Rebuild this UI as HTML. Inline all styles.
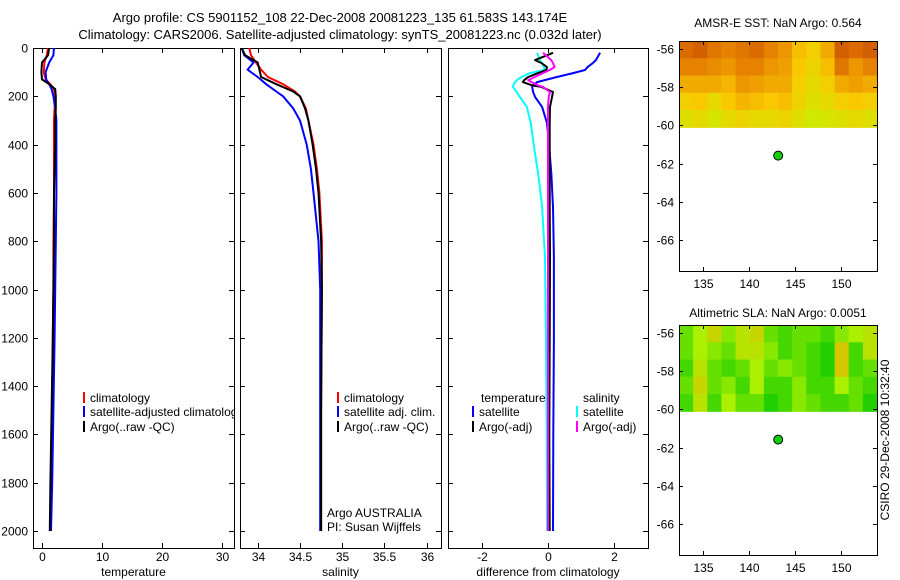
<!DOCTYPE html>
<html><head><meta charset="utf-8"><style>
body{margin:0;background:#fff}
svg{display:block;font-family:"Liberation Sans",sans-serif}
</style></head><body>
<svg id="c" width="900" height="580" viewBox="0 0 900 580">
<text x="340" y="22" font-size="13" text-anchor="middle">Argo profile: CS 5901152_108 22-Dec-2008 20081223_135 61.583S 143.174E</text>
<text x="340" y="39" font-size="13" text-anchor="middle">Climatology: CARS2006. Satellite-adjusted climatology: synTS_20081223.nc (0.032d later)</text>
<text x="778" y="27" font-size="12" text-anchor="middle">AMSR-E SST: NaN Argo: 0.564</text>
<text x="778" y="317" font-size="12" text-anchor="middle">Altimetric SLA: NaN Argo: 0.0051</text>
<text transform="translate(889,440) rotate(-90)" font-size="12" text-anchor="middle">CSIRO 29-Dec-2008 10:32:40</text>
</svg>
<script>
// ---- data ----
const depthTicks=[0,200,400,600,800,1000,1200,1400,1600,1800,2000];
const tempTicks=[0,10,20,30];
const salTicks=[34,34.5,35,35.5,36];
const diffTicks=[-2,0,2];
const lonTicks=[135,140,145,150];
const latTicks=[-56,-58,-60,-62,-64,-66];

const tDepth=[0,30,60,100,130,150,170,200,250,300,400,600,800,1000,1200,1500,1800,2000];
const tClim=[1.0,0.8,0.4,0.3,0.6,1.4,2.0,2.2,2.1,2.0,2.0,2.0,1.9,1.9,1.8,1.7,1.5,1.4];
const tSat=[2.0,1.9,1.2,0.6,0.7,1.2,1.6,1.9,2.2,2.4,2.4,2.4,2.3,2.2,2.1,1.9,1.7,1.5];
const tArgo=[1.2,1.0,0.0,-0.1,0.0,1.2,2.2,2.3,2.3,2.2,2.2,2.0,2.0,1.9,1.8,1.6,1.4,1.3];

const sDepth=[0,30,60,90,120,150,180,200,250,300,400,500,600,800,1000,1500,2000];
const sClim=[33.9,33.92,33.98,34.04,34.12,34.3,34.44,34.5,34.57,34.6,34.66,34.7,34.73,34.76,34.76,34.75,34.75];
const sSat=[33.81,33.84,33.95,33.88,34.0,34.1,34.22,34.3,34.42,34.5,34.58,34.63,34.66,34.72,34.74,34.74,34.74];
const sArgo=[33.81,33.85,34.0,34.02,34.04,34.22,34.42,34.5,34.56,34.6,34.65,34.69,34.72,34.75,34.76,34.75,34.75];

const dDepth=[20,50,62,79,91,104,120,133,141,155,161,182,203,244,311,381,451,518,658,865,1200,1600,2000];
const dTempSat=[1.58,1.45,1.36,1.2,1.12,0.76,0.27,-0.1,-0.33,-0.45,-0.48,-0.45,-0.39,-0.18,-0.03,0.02,0.06,0.1,0.15,0.18,0.18,0.16,0.15];
const dTempArgo=[0.15,-0.39,-0.2,-0.03,-0.05,-0.3,-0.6,-0.72,-0.76,-0.48,-0.2,0.15,0.12,0.06,0.05,0.05,0.05,0.05,0.05,0.06,0.05,0.04,0.05];
const dSalSat=[-0.33,-0.25,-0.18,-0.12,-0.1,-0.55,-0.8,-0.94,-1.0,-1.05,-1.06,-0.95,-0.85,-0.64,-0.52,-0.45,-0.38,-0.3,-0.18,-0.09,-0.06,-0.04,-0.03];
const dSalArgo=[-0.15,0.1,0.15,0.2,0.05,-0.15,-0.4,-0.6,-0.5,-0.3,-0.15,0.06,0.02,0.0,0.0,0.0,0.0,0.0,0.0,0.0,0.0,0.0,0.0];

const sstGrid=[
[.8,.85,.75,.7,.75,.8,.7,.6,.4,.3,.5,.85,.8,.85],
[.7,.7,.65,.6,.7,.7,.6,.55,.35,.25,.4,.75,.6,.7],
[.5,.5,.5,.45,.6,.55,.5,.5,.3,.2,.3,.5,.55,.5],
[.3,.35,.2,.35,.45,.4,.35,.4,.25,.15,.2,.3,.35,.3],
[.15,.2,.1,.2,.25,.2,.2,.25,.15,.05,.1,.15,.2,.15]];
const slaGrid=[
[.3,.5,.7,.4,.6,.7,.3,.2,.3,.3,.2,.4,.5,.6],
[.3,.5,.4,.3,.6,.6,.4,.2,.3,.2,.1,.8,.2,.6],
[.2,.6,.3,.2,.3,.5,.3,.4,.3,.2,.1,.8,.2,.3],
[.3,.7,.3,.4,.2,.5,.2,.2,.4,.2,.2,.5,.3,.2],
[.2,.6,.2,.5,.3,.3,.1,.2,.4,.3,.2,.2,.3,.1]];
const gridLon=[132.4,153.9];
const gridLat=[-55.6,-60.1];
const argoLon=143.17, argoLat=-61.58;

// ---- drawing ----
const NS='http://www.w3.org/2000/svg';
const svg=document.getElementById('c');
function mk(tag,at,parent){const e=document.createElementNS(NS,tag);for(const k in at)e.setAttribute(k,at[k]);(parent||svg).appendChild(e);return e;}
const Y0=48,PY=0.2415,BOT=548;
const yD=d=>Y0+d*PY;
const panels=[
 {x0:33,x1:234,v0:-1.5,v1:32,ticks:tempTicks,label:'temperature',name:'temperature'},
 {x0:240,x1:441,v0:33.79,v1:36.17,ticks:salTicks,label:'salinity',name:'salinity'},
 {x0:448,x1:648,v0:-3.03,v1:3.03,ticks:diffTicks,label:'difference from climatology',name:'difference'}];
panels.forEach((p,i)=>{
 p.x=v=>p.x0+(v-p.v0)/(p.v1-p.v0)*(p.x1-p.x0);
 const g=mk('g',{});
 
 
 const cp=mk('clipPath',{id:'cp'+i},g);mk('rect',{x:p.x0,y:Y0,width:p.x1-p.x0,height:BOT-Y0},cp);
 mk('rect',{x:p.x0+.5,y:Y0+.5,width:p.x1-p.x0,height:BOT-Y0,fill:'none',stroke:'#000'},g);
 p.ticks.forEach(t=>{const x=Math.round(p.x(t))+.5;
  mk('line',{x1:x,x2:x,y1:Y0,y2:Y0+5,stroke:'#000'},g);mk('line',{x1:x,x2:x,y1:BOT-5,y2:BOT,stroke:'#000'},g);
  const tx=mk('text',{x:x,y:561,'font-size':12,'text-anchor':'middle'},g);tx.textContent=t;
  
  });
 depthTicks.forEach(d=>{const y=Math.round(yD(d))+.5;
  mk('line',{x1:p.x0,x2:p.x0+5,y1:y,y2:y,stroke:'#000'},g);mk('line',{x1:p.x1-5,x2:p.x1,y1:y,y2:y,stroke:'#000'},g);
  if(i==0){const tx=mk('text',{x:28,y:y+4,'font-size':12,'text-anchor':'end'},g);tx.textContent=d;
   
   }});
 const lb=mk('text',{x:(p.x0+p.x1)/2,y:576,'font-size':12,'text-anchor':'middle'},g);lb.textContent=p.label;
 
 
 p.g=mk('g',{'clip-path':'url(#cp'+i+')'},g);
});
function line(p,depths,vals,color,name){
 const pts=depths.map((d,k)=>p.x(vals[k]).toFixed(1)+','+yD(d).toFixed(1)).join(' ');
 const e=mk('polyline',{points:pts,fill:'none',stroke:color,'stroke-width':2,'stroke-linejoin':'round'},p.g);
 
 
}
line(panels[0],tDepth,tClim,'#f00','temp-climatology-line');
line(panels[0],tDepth,tSat,'#00f','temp-satellite-line');
line(panels[0],tDepth,tArgo,'#000','temp-argo-line');
line(panels[1],sDepth,sClim,'#f00','sal-climatology-line');
line(panels[1],sDepth,sSat,'#00f','sal-satellite-line');
line(panels[1],sDepth,sArgo,'#000','sal-argo-line');
line(panels[2],dDepth,dSalSat,'#0ff','diff-sal-satellite-line');
line(panels[2],dDepth,dTempSat,'#00f','diff-temp-satellite-line');
line(panels[2],dDepth,dTempArgo,'#000','diff-temp-argo-line');
line(panels[2],dDepth,dSalArgo,'#f0f','diff-sal-argo-line');

function legend(p,x,y,color,text){
 mk('rect',{x:x,y:y-10,width:2,height:11,fill:color},p.g);
 const t=mk('text',{x:x+7,y:y,'font-size':12},p.g);t.textContent=text;
 
 
}
legend(panels[0],83,402,'#f00','climatology');
legend(panels[0],83,416,'#00f','satellite-adjusted climatology');
legend(panels[0],83,431,'#000','Argo(..raw -QC)');
legend(panels[1],337,402,'#f00','climatology');
legend(panels[1],337,416,'#00f','satellite adj. clim.');
legend(panels[1],337,431,'#000','Argo(..raw -QC)');
[['Argo AUSTRALIA',517],['PI: Susan Wijffels',531]].forEach(a=>{const t=mk('text',{x:327,y:a[1],'font-size':12},panels[1].g);t.textContent=a[0];
 
 });
[['temperature',481],['salinity',583]].forEach(a=>{const t=mk('text',{x:a[1],y:402,'font-size':12},panels[2].g);t.textContent=a[0];
 
 });
legend(panels[2],472,416,'#00f','satellite');
legend(panels[2],472,431,'#000','Argo(-adj)');
legend(panels[2],576,416,'#0ff','satellite');
legend(panels[2],576,431,'#f0f','Argo(-adj)');

function lerpCol(stops,v){for(let k=1;k<stops.length;k++){if(v<=stops[k][0]||k==stops.length-1){const a=stops[k-1],b=stops[k];const t=Math.max(0,Math.min(1,(v-a[0])/(b[0]-a[0])));
 return 'rgb('+[1,2,3].map(j=>Math.round(a[j]+(b[j]-a[j])*t)).join(',')+')';}}}
const sstStops=[[0,200,240,0],[.35,250,200,0],[.7,230,130,0],[1,190,60,0]];
const slaStops=[[0,0,200,0],[.5,170,240,0],[1,240,170,0]];
function map(y0,grid,stops,name){
 const X0=679,X1=877,Y1=y0+230;
 const mx=v=>X0+(v-132.4)/(153.9-132.4)*(X1-X0);
 const my=v=>y0+(v-(-55.6))/((-67.6)-(-55.6))*(Y1-y0);
 const g=mk('g',{});
 
 
 const rows=grid.length,cols=grid[0].length;
 const gx0=mx(gridLon[0]),gx1=mx(gridLon[1]),gy0=my(gridLat[0]),gy1=my(gridLat[1]);
 const cw=(gx1-gx0)/cols,ch=(gy1-gy0)/rows;
 grid.forEach((r,ri)=>r.forEach((v,ci)=>{mk('rect',{x:gx0+ci*cw,y:gy0+ri*ch,width:cw+.6,height:ch+.6,fill:lerpCol(stops,v)},g);}));
 mk('rect',{x:X0+.5,y:y0+.5,width:X1-X0,height:Y1-y0,fill:'none',stroke:'#000'},g);
 lonTicks.forEach(l=>{const x=Math.round(mx(l))+.5;mk('line',{x1:x,x2:x,y1:y0,y2:y0+4,stroke:'#000'},g);mk('line',{x1:x,x2:x,y1:Y1-4,y2:Y1,stroke:'#000'},g);
  const t=mk('text',{x:x,y:Y1+17,'font-size':12,'text-anchor':'middle'},g);t.textContent=l;
  
  });
 latTicks.forEach(l=>{const y=Math.round(my(l))+.5;mk('line',{x1:X0,x2:X0+4,y1:y,y2:y,stroke:'#000'},g);mk('line',{x1:X1-4,x2:X1,y1:y,y2:y,stroke:'#000'},g);
  const t=mk('text',{x:X0-5,y:y+4,'font-size':12,'text-anchor':'end'},g);t.textContent=l;
  
  });
 const dot=mk('circle',{cx:mx(argoLon),cy:my(argoLat),r:4.5,fill:'#1c1',stroke:'#000','stroke-width':1},g);
 
 
}
map(41,sstGrid,sstStops,'sst-map');
map(325,slaGrid,slaStops,'sla-map');
</script>
</body></html>
